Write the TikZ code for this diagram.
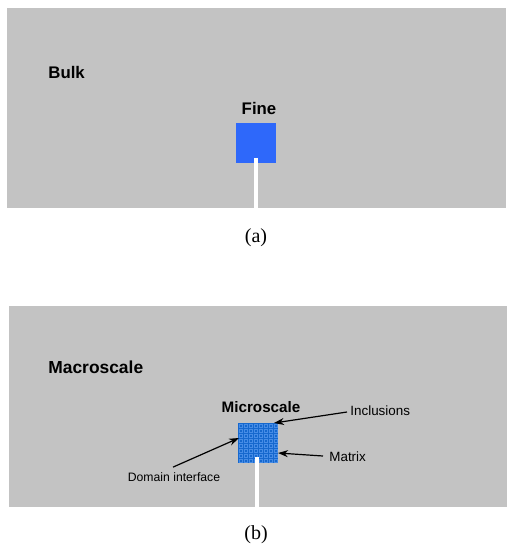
\documentclass[tikz,border=0pt]{standalone}
\usepackage{fontspec}
\setmainfont{Liberation Serif}
\setsansfont{Liberation Sans}
\usetikzlibrary{calc,arrows.meta}
\definecolor{panelgray}{RGB}{195,195,195}
\definecolor{fineblue}{RGB}{46,104,250}
\definecolor{microblue}{RGB}{22,104,206}
\definecolor{cellblue}{RGB}{70,140,230}
\tikzset{%
  >={Stealth[length=5pt,width=3.5pt]}, % small filled tips
  panel/.style={fill=panelgray,draw=none},
  title/.style={font=\sffamily\bfseries\fontsize{8.4}{10}\selectfont,inner sep=0pt},
  note/.style={font=\sffamily\fontsize{6.7}{8}\selectfont,inner sep=0pt},
  caption/.style={font=\fontsize{10}{12}\selectfont,inner sep=0pt},
  stem/.style={draw=white,line width=2pt},
  pointer/.style={->,line width=0.6pt}
}

\begin{document}
\begin{tikzpicture}[x=0.5pt,y=-0.5pt]

%% some definitions

\def\S{40} % side of the fine / micro square
\def\n{8} % cells per side of the microscale grid

\useasboundingbox (0,0) rectangle (514,550);

%% (a) bulk and fine

\fill[panel] (7,8) rectangle (506,208);
\node[title,anchor=west] (bulk) at (48,72) {Bulk};
\fill[fineblue] (236,123) rectangle ++(\S,\S);
\coordinate (fineS) at (256,158);
\draw[stem] (fineS) -- (256,208);
\node[title] (fine) at (259,108) {Fine};
\node[caption] (capa) at (256,238) {(a)};

%% (b) macroscale and microscale

\fill[panel] (9,306) rectangle (507,507);
\node[title,anchor=west,font=\sffamily\bfseries\fontsize{8.7}{10}\selectfont]
  (macro) at (48,367) {Macroscale};
\fill[microblue] (238,423) rectangle ++(\S,\S);
\foreach \i in {1,...,\n}
  \foreach \j in {1,...,\n}
    \draw[cellblue,line width=0.45pt]
      ($(238,423)+(5*\i-4,5*\j-4)$) rectangle ++(3,3);
\coordinate (microS) at (257,457);
\draw[stem] (microS) -- (257,507);
\node[title,font=\sffamily\bfseries\fontsize{7.6}{9}\selectfont]
  (micro) at (261,407) {Microscale};
\node[caption] (capb) at (256,535) {(b)};

%% labels and pointers

\coordinate (incl) at (274,423);
\coordinate (matx) at (278,453);
\coordinate (dom) at (239,438);
\node[note,anchor=west] (inclusions) at (350,411) {Inclusions};
\node[note,anchor=west] (matrix) at (329,457) {Matrix};
\node[note,font=\sffamily\fontsize{6.1}{7.5}\selectfont]
  (domain) at (174,477) {Domain interface};
\draw[pointer] (inclusions.west) ++(-3,1) -- (incl);
\draw[pointer] (matrix.west) ++(-6,-1) -- (matx);
\draw[pointer] (domain.north) ++(-1,-5) -- (dom);

\end{tikzpicture}
\end{document}
